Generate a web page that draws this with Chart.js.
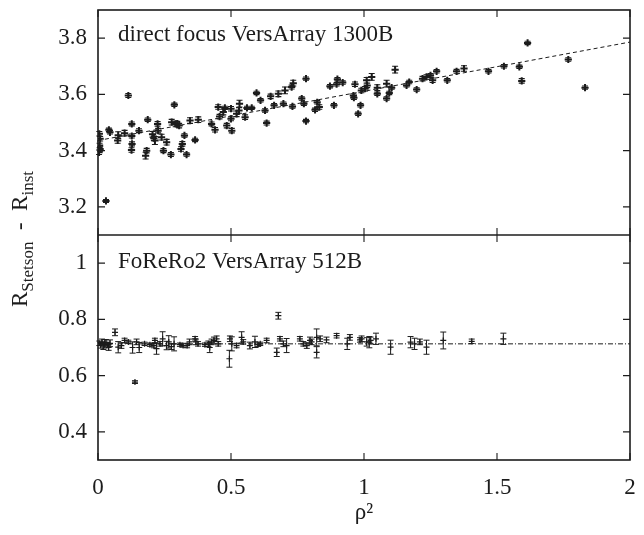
<!DOCTYPE html>
<html>
<head>
<meta charset="utf-8">
<script src="https://cdn.jsdelivr.net/npm/chart.js@4.4.1/dist/chart.umd.min.js"></script>
<style>
html,body{margin:0;padding:0;background:#fff;}
#wrap{width:644px;height:535px;position:relative;}
</style>
</head>
<body>
<div id="wrap"><canvas id="c" width="644" height="535"></canvas></div>
<script>
// ---------- data ----------
const X_TICKS = [0, 0.5, 1, 1.5, 2];
const TOP_TICKS = [3.2, 3.4, 3.6, 3.8];
const BOT_TICKS = [0.4, 0.6, 0.8, 1];

const TOP_LABEL = 'direct focus VersArray 1300B';
const BOT_LABEL = 'FoReRo2 VersArray 512B';

const TOP_X = [0.005,0.008,0.006,0.008,0.004,0.030,0.041,0.045,0.074,0.076,
  0.100,0.114,0.127,0.127,0.128,0.126,0.154,0.179,0.183,0.187,
  0.205,0.210,0.214,0.224,0.226,0.239,0.246,0.258,0.274,0.277,
  0.287,0.292,0.305,0.298,0.312,0.317,0.325,0.333,0.346,0.365,
  0.377,0.427,0.440,0.452,0.457,0.471,0.477,0.484,0.500,0.503,
  0.500,0.521,0.530,0.532,0.553,0.560,0.578,0.596,0.611,0.628,
  0.634,0.649,0.662,0.678,0.697,0.703,0.728,0.734,0.731,0.766,
  0.774,0.782,0.782,0.816,0.824,0.832,0.872,0.887,0.897,0.900,
  0.920,0.960,0.962,0.966,0.978,0.987,0.990,1.004,1.010,1.012,
  1.029,1.050,1.050,1.085,1.085,1.095,1.104,1.117,1.160,1.170,
  1.198,1.220,1.235,1.250,1.258,1.273,1.313,1.348,1.376,1.468,
  1.526,1.584,1.593,1.615,1.768,1.831];
const TOP_Y = [3.460,3.442,3.418,3.406,3.394,3.221,3.474,3.465,3.436,3.455,
  3.462,3.596,3.495,3.452,3.424,3.402,3.471,3.382,3.400,3.510,
  3.458,3.444,3.436,3.495,3.471,3.448,3.400,3.430,3.386,3.501,
  3.563,3.495,3.489,3.496,3.406,3.424,3.454,3.386,3.507,3.438,
  3.510,3.495,3.474,3.555,3.521,3.537,3.552,3.489,3.513,3.471,
  3.549,3.531,3.543,3.567,3.519,3.552,3.552,3.605,3.579,3.543,
  3.498,3.593,3.561,3.602,3.567,3.614,3.626,3.640,3.557,3.585,
  3.567,3.656,3.505,3.545,3.572,3.555,3.629,3.561,3.636,3.654,
  3.642,3.596,3.588,3.636,3.531,3.561,3.614,3.620,3.650,3.632,
  3.662,3.624,3.602,3.638,3.585,3.605,3.624,3.688,3.632,3.644,
  3.617,3.656,3.662,3.668,3.650,3.682,3.650,3.682,3.692,3.682,
  3.700,3.698,3.648,3.783,3.724,3.624];
const TOP_ERR = [0.008,0.008,0.008,0.008,0.008,0.005,0.006,0.006,0.010,0.012,
  0.010,0.007,0.007,0.007,0.007,0.008,0.007,0.012,0.008,0.006,
  0.010,0.008,0.014,0.008,0.008,0.010,0.007,0.010,0.007,0.010,
  0.006,0.010,0.008,0.008,0.008,0.008,0.006,0.006,0.010,0.006,
  0.010,0.007,0.008,0.008,0.008,0.010,0.006,0.008,0.007,0.008,
  0.008,0.010,0.010,0.012,0.008,0.006,0.006,0.006,0.006,0.006,
  0.007,0.008,0.006,0.010,0.006,0.012,0.007,0.010,0.006,0.006,
  0.006,0.006,0.006,0.006,0.006,0.008,0.006,0.006,0.006,0.006,
  0.006,0.006,0.006,0.008,0.006,0.006,0.008,0.008,0.010,0.008,
  0.012,0.010,0.006,0.012,0.006,0.006,0.006,0.012,0.006,0.006,
  0.006,0.008,0.008,0.006,0.008,0.006,0.006,0.007,0.010,0.006,
  0.006,0.006,0.008,0.006,0.006,0.006];

const BOT_X = [0.005,0.010,0.015,0.020,0.025,0.030,0.035,0.040,0.045,0.064,
  0.076,0.088,0.100,0.114,0.130,0.139,0.145,0.155,0.175,0.195,
  0.210,0.214,0.220,0.233,0.243,0.258,0.266,0.276,0.286,0.308,
  0.320,0.335,0.344,0.365,0.368,0.376,0.402,0.415,0.420,0.427,
  0.436,0.446,0.452,0.494,0.496,0.503,0.521,0.540,0.546,0.571,
  0.590,0.602,0.610,0.634,0.672,0.678,0.684,0.697,0.709,0.759,
  0.772,0.785,0.797,0.803,0.822,0.822,0.835,0.859,0.897,0.937,
  0.947,0.985,0.991,1.010,1.020,1.025,1.045,1.100,1.175,1.190,
  1.210,1.235,1.298,1.405,1.524];
const BOT_Y = [0.715,0.708,0.720,0.705,0.713,0.718,0.710,0.700,0.715,0.754,
  0.701,0.707,0.725,0.720,0.700,0.577,0.720,0.700,0.713,0.710,
  0.707,0.725,0.696,0.713,0.731,0.707,0.720,0.703,0.713,0.710,
  0.707,0.707,0.720,0.731,0.720,0.713,0.710,0.713,0.700,0.720,
  0.725,0.731,0.713,0.660,0.731,0.713,0.707,0.736,0.720,0.707,
  0.720,0.710,0.713,0.725,0.683,0.813,0.731,0.713,0.707,0.731,
  0.713,0.707,0.725,0.720,0.736,0.683,0.731,0.727,0.742,0.713,
  0.736,0.727,0.731,0.720,0.719,0.725,0.731,0.701,0.719,0.713,
  0.720,0.701,0.725,0.722,0.731];
const BOT_ERR = [0.008,0.010,0.010,0.012,0.015,0.010,0.008,0.010,0.012,0.012,
  0.020,0.010,0.008,0.006,0.020,0.005,0.010,0.018,0.006,0.006,
  0.008,0.008,0.020,0.008,0.025,0.015,0.022,0.010,0.025,0.006,
  0.006,0.008,0.010,0.008,0.010,0.008,0.006,0.010,0.018,0.010,
  0.012,0.010,0.008,0.030,0.010,0.025,0.008,0.020,0.008,0.012,
  0.020,0.006,0.006,0.008,0.015,0.012,0.008,0.010,0.025,0.008,
  0.008,0.010,0.012,0.010,0.030,0.020,0.010,0.010,0.008,0.020,
  0.010,0.008,0.010,0.015,0.020,0.012,0.020,0.025,0.020,0.020,
  0.010,0.025,0.030,0.008,0.020];

const TOP_FIT_X = [0, 2];
const TOP_FIT_Y = [3.436, 3.786];
const BOT_FIT_X = [0, 2];
const BOT_FIT_Y = [0.713, 0.713];

// ---------- style ----------
const FONT = "'Liberation Serif', 'DejaVu Serif', 'Times New Roman', serif";
const INK = '#1c1c1c';
Chart.defaults.font.family = FONT;
Chart.defaults.font.size = 23;
Chart.defaults.color = INK;

const pts = (xs, ys) => xs.map((x, i) => ({x: x, y: ys[i]}));
const setTicks = arr => (s => { s.ticks = arr.map(v => ({value: v})); });
const fmt = v => String(+Number(v).toFixed(3));
const fitY = s => { s.width = 98; s.paddingTop = 0; s.paddingBottom = 0; };
const fitX = s => { s.height = 75; s.paddingLeft = 0; s.paddingRight = 0; };

const errorBars = {
  id: 'errorBars',
  afterDatasetsDraw(chart) {
    const ctx = chart.ctx;
    chart.data.datasets.forEach((ds, i) => {
      if (!ds.errs) return;
      const meta = chart.getDatasetMeta(i);
      const sc = chart.scales[ds.yAxisID];
      ctx.save();
      ctx.strokeStyle = INK;
      ctx.lineWidth = ds.errWidth;
      ctx.beginPath();
      ds.data.forEach((p, j) => {
        const el = meta.data[j];
        const e = ds.errs[j];
        const y0 = sc.getPixelForValue(p.y - e);
        const y1 = sc.getPixelForValue(p.y + e);
        const c = ds.capHalf;
        ctx.moveTo(el.x, y0); ctx.lineTo(el.x, y1);
        ctx.moveTo(el.x - c, y0); ctx.lineTo(el.x + c, y0);
        ctx.moveTo(el.x - c, y1); ctx.lineTo(el.x + c, y1);
      });
      ctx.stroke();
      ctx.restore();
    });
  }
};

const frame = {
  id: 'frame',
  afterDraw(chart) {
    const {ctx, chartArea: a, scales} = chart;
    const x = scales.x, yT = scales.yTop, yB = scales.yBot;
    const mid = yT.bottom;
    ctx.save();
    ctx.strokeStyle = INK;
    ctx.lineWidth = 1.6;
    ctx.strokeRect(a.left, a.top, a.right - a.left, a.bottom - a.top);
    ctx.beginPath(); ctx.moveTo(a.left, mid); ctx.lineTo(a.right, mid); ctx.stroke();
    ctx.lineWidth = 1.1;
    const T = 7;
    ctx.beginPath();
    X_TICKS.forEach(v => {
      const px = x.getPixelForValue(v);
      ctx.moveTo(px, a.top); ctx.lineTo(px, a.top + T);
      ctx.moveTo(px, mid - T); ctx.lineTo(px, mid + T);
      ctx.moveTo(px, a.bottom); ctx.lineTo(px, a.bottom - T);
    });
    TOP_TICKS.forEach(v => {
      const py = yT.getPixelForValue(v);
      ctx.moveTo(a.left, py); ctx.lineTo(a.left + T, py);
      ctx.moveTo(a.right, py); ctx.lineTo(a.right - T, py);
    });
    BOT_TICKS.forEach(v => {
      const py = yB.getPixelForValue(v);
      ctx.moveTo(a.left, py); ctx.lineTo(a.left + T, py);
      ctx.moveTo(a.right, py); ctx.lineTo(a.right - T, py);
    });
    ctx.stroke();

    // panel labels
    ctx.fillStyle = INK;
    ctx.font = '23px ' + FONT;
    ctx.textAlign = 'left';
    ctx.textBaseline = 'alphabetic';
    ctx.fillText(TOP_LABEL, a.left + 20, a.top + 31);
    ctx.fillText(BOT_LABEL, a.left + 20, mid + 33);

    // y-axis title with subscripts, rotated
    const parts = [
      {t: 'R', s: 23, d: 0},
      {t: 'Stetson', s: 17, d: 6},
      {t: '  -  ', s: 23, d: 0},
      {t: 'R', s: 23, d: 0},
      {t: 'inst', s: 17, d: 6}
    ];
    let total = 0;
    parts.forEach(p => { ctx.font = p.s + 'px ' + FONT; p.w = ctx.measureText(p.t).width; total += p.w; });
    ctx.translate(27, 239);
    ctx.rotate(-Math.PI / 2);
    let cx = -total / 2;
    parts.forEach(p => {
      ctx.font = p.s + 'px ' + FONT;
      ctx.fillText(p.t, cx, p.d);
      cx += p.w;
    });
    ctx.restore();
  }
};

new Chart(document.getElementById('c').getContext('2d'), {
  type: 'scatter',
  data: {
    datasets: [
      {
        label: 'direct focus', data: pts(TOP_X, TOP_Y), yAxisID: 'yTop',
        errs: TOP_ERR, errWidth: 1.1, capHalf: 3,
        pointStyle: 'cross', pointRadius: 3.6, borderWidth: 2, borderColor: INK, backgroundColor: INK
      },
      {
        label: 'FoReRo2', data: pts(BOT_X, BOT_Y), yAxisID: 'yBot',
        errs: BOT_ERR, errWidth: 1, capHalf: 3,
        pointStyle: 'cross', pointRadius: 3, borderWidth: 1.2, borderColor: INK, backgroundColor: INK
      },
      {
        type: 'line', label: 'fit top', data: pts(TOP_FIT_X, TOP_FIT_Y), yAxisID: 'yTop',
        borderColor: INK, borderWidth: 1, borderDash: [4, 3], pointRadius: 0, fill: false
      },
      {
        type: 'line', label: 'fit bottom', data: pts(BOT_FIT_X, BOT_FIT_Y), yAxisID: 'yBot',
        borderColor: INK, borderWidth: 1, borderDash: [5, 2, 1, 2], pointRadius: 0, fill: false
      }
    ]
  },
  options: {
    responsive: false,
    animation: false,
    events: [],
    layout: {padding: {top: 10, right: 14, left: 0, bottom: 0}},
    plugins: {legend: {display: false}, tooltip: {enabled: false}},
    scales: {
      x: {
        type: 'linear', position: 'bottom', min: 0, max: 2,
        afterBuildTicks: setTicks(X_TICKS),
        afterFit: fitX,
        grid: {display: false, drawTicks: false},
        border: {display: false},
        ticks: {padding: 14, maxRotation: 0, autoSkip: false, callback: fmt},
        title: {display: true, text: 'ρ²', font: {size: 23}, padding: {top: 0, bottom: 8}}
      },
      yBot: {
        type: 'linear', position: 'left', stack: 'panels', stackWeight: 1,
        min: 0.3, max: 1.1,
        afterBuildTicks: setTicks(BOT_TICKS),
        afterFit: fitY,
        grid: {display: false, drawTicks: false},
        border: {display: false},
        ticks: {padding: 11, callback: fmt}
      },
      yTop: {
        type: 'linear', position: 'left', stack: 'panels', stackWeight: 1,
        min: 3.1, max: 3.9,
        afterBuildTicks: setTicks(TOP_TICKS),
        afterFit: fitY,
        grid: {display: false, drawTicks: false},
        border: {display: false},
        ticks: {padding: 11, callback: fmt}
      }
    }
  },
  plugins: [errorBars, frame]
});
</script>
</body>
</html>
